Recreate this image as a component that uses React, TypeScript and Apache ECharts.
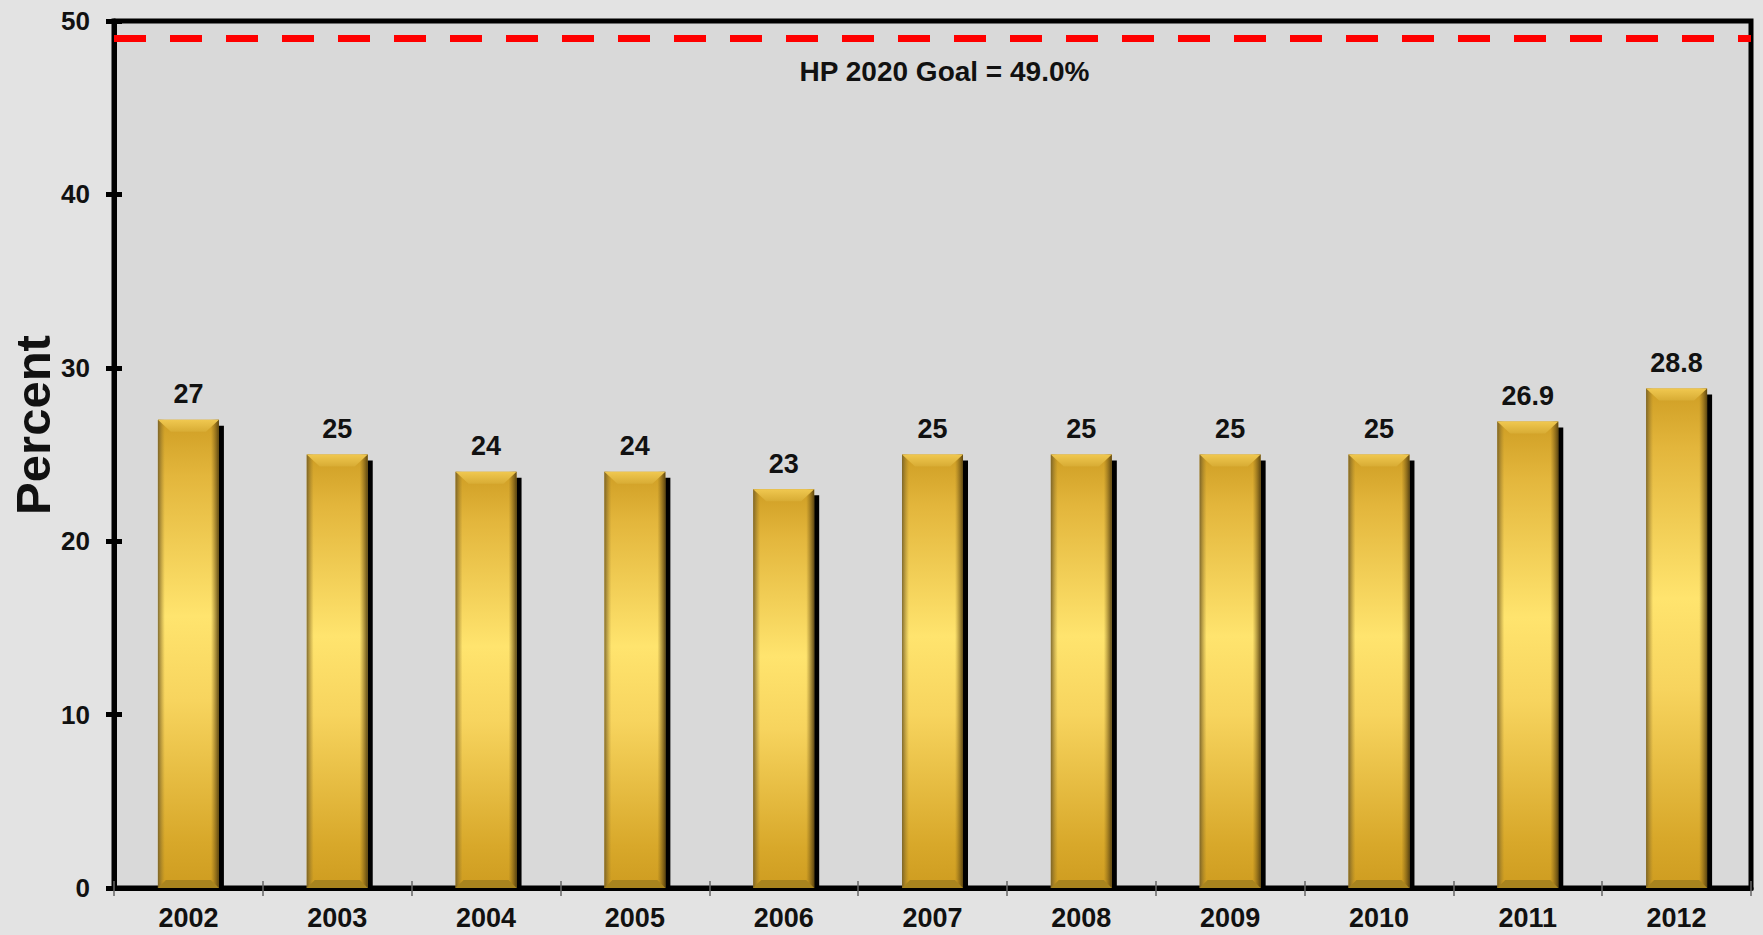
import React, { useEffect, useRef } from "react";
import * as echarts from "echarts";

const categories = ["2002", "2003", "2004", "2005", "2006", "2007", "2008", "2009", "2010", "2011", "2012"];
const values = [27, 25, 24, 24, 23, 25, 25, 25, 25, 26.9, 28.8];
const valueLabels = ["27", "25", "24", "24", "23", "25", "25", "25", "25", "26.9", "28.8"];
const goalValue = 49;
const goalLabel = "HP 2020 Goal = 49.0%";
const yTicks = { min: 0, max: 50, interval: 10 };
const yTitle = "Percent";

const FONT = "Arial, 'Liberation Sans', sans-serif";

export default function App() {
  const ref = useRef<HTMLDivElement>(null);
  useEffect(() => {
    if (!ref.current) return;
    const chart = echarts.init(ref.current, null, { renderer: "svg" });
    const LG = echarts.graphic.LinearGradient;
    const renderItem = (params: any, api: any) => {
      const idx = params.dataIndex;
      const cat = api.value(0);
      const v = api.value(1);
      const top = api.coord([cat, v]);
      const base = api.coord([cat, 0]);
      const band = api.size([1, 0])[0];
      const w = band * 0.41;
      const x = top[0] - w / 2;
      const y = top[1];
      const h = base[1] - top[1];
      return {
        type: "group",
        children: [
          { type: "rect", shape: { x: x + 5, y: y + 6, width: w, height: h - 6 }, style: { fill: "#000" } },
          {
            type: "rect",
            shape: { x, y, width: w, height: h },
            style: {
              fill: new LG(0, 0, 0, 1, [
                { offset: 0, color: "#CF9E24" },
                { offset: 0.12, color: "#E3B63C" },
                { offset: 0.42, color: "#FFE46E" },
                { offset: 0.6, color: "#F7D45E" },
                { offset: 0.9, color: "#D8A82A" },
                { offset: 1, color: "#CE9C20" },
              ]),
            },
          },
          {
            type: "rect",
            shape: { x, y, width: 7, height: h },
            style: {
              fill: new LG(0, 0, 1, 0, [
                { offset: 0, color: "rgba(110,90,40,0.85)" },
                { offset: 1, color: "rgba(150,120,40,0)" },
              ]),
            },
          },
          {
            type: "rect",
            shape: { x: x + w - 8, y, width: 8, height: h },
            style: {
              fill: new LG(0, 0, 1, 0, [
                { offset: 0, color: "rgba(120,90,20,0)" },
                { offset: 1, color: "rgba(80,60,15,0.9)" },
              ]),
            },
          },
          {
            type: "polygon",
            shape: { points: [[x, y], [x + w, y], [x + w - 13, y + 12], [x + 13, y + 12]] },
            style: {
              fill: new LG(0, 0, 0, 1, [
                { offset: 0, color: "#F0C850" },
                { offset: 1, color: "#D8AC34" },
              ]),
            },
          },
          {
            type: "polygon",
            shape: { points: [[x, y + h], [x + w, y + h], [x + w - 8, y + h - 8], [x + 8, y + h - 8]] },
            style: { fill: "#A8841E" },
          },
          {
            type: "text",
            style: {
              text: valueLabels[idx],
              x: top[0],
              y: y - 12,
              align: "center",
              verticalAlign: "bottom",
              font: `bold 27px ${FONT}`,
              fill: "#111",
            },
          },
        ],
      };
    };

    chart.setOption({
      animation: false,
      backgroundColor: "#E3E3E3",
      grid: {
        left: 114,
        right: 12,
        top: 21,
        bottom: 47,
        show: true,
        backgroundColor: "#D9D9D9",
        borderColor: "#000",
        borderWidth: 5,
      },
      graphic: [
        {
          type: "text",
          x: 33,
          y: 425,
          rotation: Math.PI / 2,
          style: {
            text: yTitle,
            align: "center",
            verticalAlign: "middle",
            font: `bold 49px ${FONT}`,
            fill: "#111",
          },
        },
      ],
      xAxis: [
        {
          type: "category",
          data: categories,
          position: "bottom",
          axisLine: { show: true, lineStyle: { color: "#000", width: 5 } },
          axisTick: { show: true, length: 8, lineStyle: { color: "#666", width: 1.5 } },
          axisLabel: { color: "#111", fontSize: 27, fontWeight: "bold", fontFamily: FONT, margin: 16 },
          splitLine: { show: false },
        },
        {
          type: "category",
          data: categories,
          position: "bottom",
          axisLine: { show: false },
          axisTick: { show: true, inside: true, length: 7, lineStyle: { color: "#666", width: 1.5 } },
          axisLabel: { show: false },
          splitLine: { show: false },
        },
      ],
      yAxis: [
        {
          type: "value",
          min: yTicks.min,
          max: yTicks.max,
          interval: yTicks.interval,
          axisLine: { show: true, lineStyle: { color: "#000", width: 5 } },
          axisTick: { show: true, length: 8, lineStyle: { color: "#000", width: 5 } },
          axisLabel: { color: "#111", fontSize: 26, fontWeight: "bold", fontFamily: FONT, margin: 24 },
          splitLine: { show: false },
        },
        {
          type: "value",
          min: yTicks.min,
          max: yTicks.max,
          interval: yTicks.interval,
          position: "left",
          axisLine: { show: false },
          axisTick: { show: true, inside: true, length: 8, lineStyle: { color: "#000", width: 5 } },
          axisLabel: { show: false },
          splitLine: { show: false },
        },
      ],
      series: [
        {
          type: "custom",
          xAxisIndex: 0,
          yAxisIndex: 0,
          renderItem,
          data: values.map((v, i) => [i, v]),
          encode: { x: 0, y: 1 },
          z: 2,
          markLine: {
            silent: true,
            symbol: ["none", "none"],
            lineStyle: { color: "#FF0000", width: 7, type: [32, 24] },
            label: {
              show: true,
              position: "insideMiddleBottom",
              distance: 19,
              formatter: goalLabel,
              color: "#111",
              fontSize: 28,
              fontWeight: "bold",
              fontFamily: FONT,
              offset: [12, 0],
            },
            data: [{ yAxis: goalValue }],
          },
        },
      ],
    });
    return () => chart.dispose();
  }, []);
  return (
    <div
      ref={ref}
      style={{ position: "fixed", left: 0, top: 0, width: 1763, height: 935 }}
    />
  );
}
